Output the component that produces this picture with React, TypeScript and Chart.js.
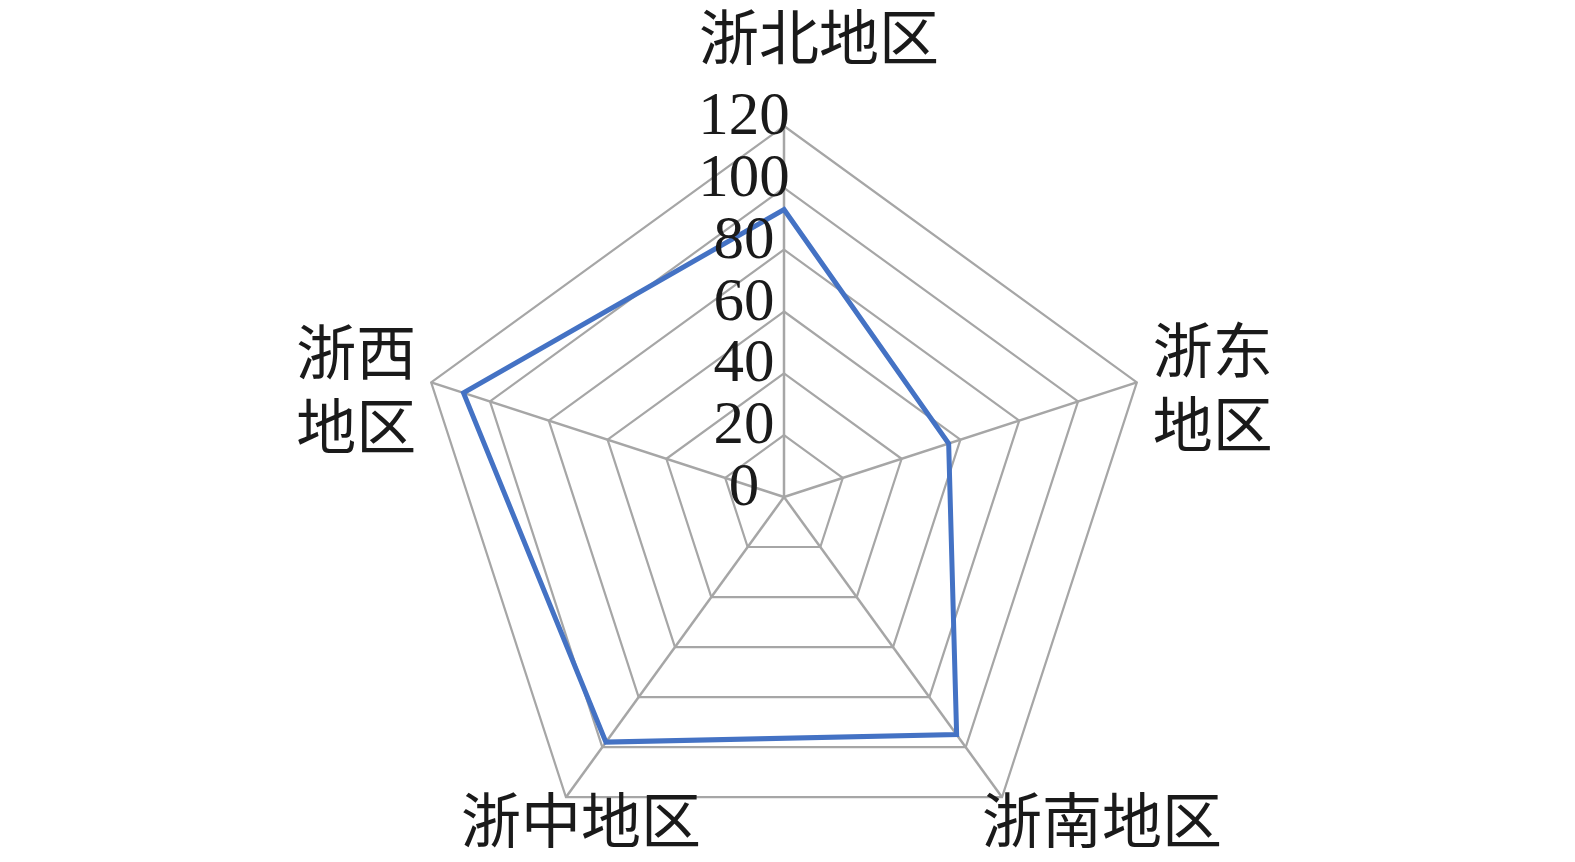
import React, { useEffect, useRef } from "react";
import { Chart, registerables } from "chart.js";

Chart.register(...registerables);

const categories: string[][] = [["浙北地区"], ["浙东", "地区"], ["浙南地区"], ["浙中地区"], ["浙西", "地区"]];
const values = [93, 56, 95, 98, 109];
const tickValues = [0, 20, 40, 60, 80, 100, 120];

// label offsets relative to each outer vertex (style, not data)
const labelOffsets: number[][] = [[35, -89], [76, 5], [100, 23], [15, 23], [-75, 7]];

const labelPlugin = {
  id: "customLabels",
  afterDraw(chart: any) {
    const s = chart.scales.r;
    const ctx = chart.ctx;
    ctx.save();
    ctx.fillStyle = "#1a1a1a";
    ctx.textAlign = "center";
    ctx.textBaseline = "middle";
    ctx.font = '61px "Liberation Serif", "Times New Roman", serif';
    tickValues.forEach((v) => {
      const y = s.yCenter - s.getDistanceFromCenterForValue(v) - 8;
      ctx.fillText(String(v), s.xCenter - 40, y);
    });
    ctx.font = '60px "Noto Sans CJK SC", sans-serif';
    categories.forEach((lines, i) => {
      const p = s.getPointPosition(i, s.drawingArea);
      const cx = p.x + labelOffsets[i][0];
      const cy = p.y + labelOffsets[i][1];
      lines.forEach((t, j) => {
        ctx.fillText(t, cx, cy + (j - (lines.length - 1) / 2) * 74);
      });
    });
    ctx.restore();
  },
};

export default function App() {
  const ref = useRef<HTMLCanvasElement>(null);
  useEffect(() => {
    if (!ref.current) return;
    const chart = new Chart(ref.current, {
      type: "radar",
      data: {
        labels: categories.map((c) => c.join("")),
        datasets: [
          {
            data: values,
            borderColor: "#4472C4",
            borderWidth: 5,
            backgroundColor: "rgba(0,0,0,0)",
            fill: false,
            pointRadius: 0,
            tension: 0,
          },
        ],
      },
      options: {
        responsive: false,
        animation: false,
        devicePixelRatio: 1,
        layout: { padding: { left: 413, right: 420, top: 126, bottom: 0 } },
        plugins: { legend: { display: false }, tooltip: { enabled: false } },
        scales: {
          r: {
            min: 0,
            max: 120,
            ticks: { stepSize: 20, display: false },
            pointLabels: { display: false },
            grid: { color: "#a6a6a6", lineWidth: 2.2 },
            angleLines: { color: "#a6a6a6", lineWidth: 2.5 },
          },
        },
      },
      plugins: [labelPlugin],
    });
    return () => chart.destroy();
  }, []);
  return (
    <div style={{ position: "absolute", left: 0, top: 0, width: 1575, height: 862, overflow: "hidden", background: "#fff" }}>
      <canvas ref={ref} width={1575} height={868} style={{ display: "block" }} />
    </div>
  );
}
